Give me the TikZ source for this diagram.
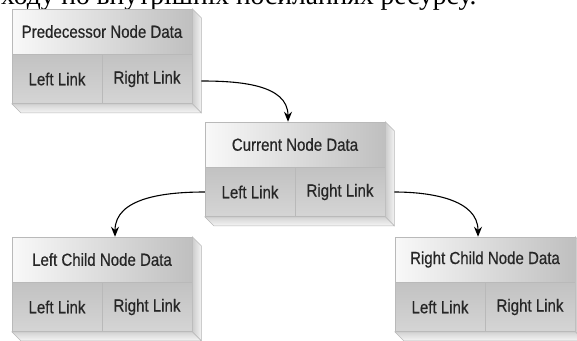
\documentclass[tikz,border=0pt]{standalone}
\usepackage{fontspec}
\newfontfamily\cellfont[FakeStretch=0.86,FakeBold=0.5]{Liberation Sans}
\newfontfamily\uafont{Liberation Serif}
\usetikzlibrary{positioning,arrows.meta}

\begin{document}
\begin{tikzpicture}[x=1pt,y=-1pt,->,>={Stealth[length=10pt,width=8pt]},line width=1.1pt,
  cell/.style={draw=gray!55,line width=0.5pt,inner sep=0pt,text=black!85,font=\cellfont\fontsize{17.5}{20}\selectfont},
  datacell/.style={cell,minimum width=180pt,minimum height=45pt,left color=gray!5,right color=gray!50},
  linkcell/.style={cell,minimum width=90pt,minimum height=49pt,top color=gray!48,bottom color=gray!33},
  side/.style={-,draw=gray!55,line width=0.5pt}]
  \useasboundingbox (0,0) rectangle (577,340);

  \node[anchor=base east,inner sep=0pt,font=\uafont\fontsize{27.5}{30}\selectfont] (caption) at (477,5) {ходу по внутрішніх посиланнях ресурсу.};

  \node[datacell] (pred) at (102,31.5) {Predecessor Node Data};
  \node[linkcell,below right=0pt of pred.south west] (pred-l) {Left Link};
  \node[linkcell,below left=0pt of pred.south east] (pred-r) {Right Link};

  \node[datacell] (cur) at (295,144.5) {Current Node Data};
  \node[linkcell,below right=0pt of cur.south west] (cur-l) {Left Link};
  \node[linkcell,below left=0pt of cur.south east] (cur-r) {Right Link};

  \node[datacell] (lchild) at (102,259.5) {Left Child Node Data};
  \node[linkcell,below right=0pt of lchild.south west] (lchild-l) {Left Link};
  \node[linkcell,below left=0pt of lchild.south east] (lchild-r) {Right Link};

  \node[datacell] (rchild) at (485,259.5) {Right Child Node Data};
  \node[linkcell,below right=0pt of rchild.south west] (rchild-l) {Left Link};
  \node[linkcell,below left=0pt of rchild.south east] (rchild-r) {Right Link};

  % raised sides
  \foreach \b in {pred,cur,lchild,rchild}{
    \draw[side,left color=gray!40,right color=gray!10] (\b.north east) -- ++(9,9)
      -- ([shift={(9,9)}]\b-r.south east) -- (\b-r.south east) -- cycle;
    \draw[side,top color=gray!35,bottom color=gray!8] (\b-l.south west) -- (\b-r.south east)
      -- ([shift={(9,9)}]\b-r.south east) -- ([shift={(9,9)}]\b-l.south west) -- cycle;
  }

  \draw ([xshift=9pt,yshift=-2pt]pred-r.east) to[out=0,in=90] ([xshift=-7pt]cur.north);
  \draw (cur-l.west) to[out=180,in=90] ([xshift=13pt]lchild.north);
  \draw ([xshift=9pt]cur-r.east) to[out=0,in=90] ([xshift=-7pt]rchild.north);
\end{tikzpicture}
\end{document}
